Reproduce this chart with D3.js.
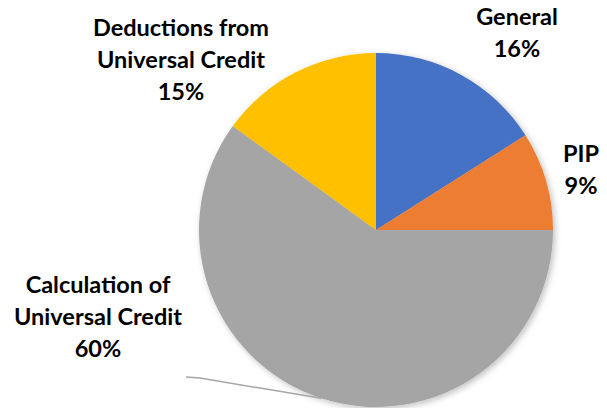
<!DOCTYPE html>
<html><head><meta charset="utf-8">
<script src="https://cdn.jsdelivr.net/npm/d3@7"></script>
<style>html,body{margin:0;padding:0;background:#fff;}svg{display:block;}</style>
</head><body>
<svg id="c" width="607" height="408"></svg>
<script>
const categories = ["General", "PIP", "Calculation of Universal Credit", "Deductions from Universal Credit"];
const labelLines = [["General"], ["PIP"], ["Calculation of", "Universal Credit"], ["Deductions from", "Universal Credit"]];
const values = [16, 9, 60, 15];
const colors = ["#4472C4", "#ED7D31", "#A5A5A5", "#FFC000"];

const svg = d3.select("#c");
const cx = 376, cy = 230, R = 177;
const defs = svg.append("defs");
const f = defs.append("filter").attr("id","sh").attr("x","-20%").attr("y","-20%").attr("width","140%").attr("height","140%");
f.append("feDropShadow").attr("dx",2).attr("dy",2).attr("stdDeviation",3).attr("flood-color","#000").attr("flood-opacity",0.25);

const pie = d3.pie().sort(null).value(d=>d)(values);
const arc = d3.arc().innerRadius(0).outerRadius(R);
const g = svg.append("g").attr("transform",`translate(${cx},${cy})`);
g.append("g").attr("filter","url(#sh)").selectAll("path").data(pie).join("path")
  .attr("d",arc).attr("fill",(d,i)=>colors[i]);

// label positions (center x, first baseline y)
const labelPos = [[517,25],[581,162],[98,293],[181,36]];
const lh = 32;
const font = "Lato, 'Liberation Sans', sans-serif";
labelPos.forEach((p,i)=>{
  const lines = labelLines[i].concat([values[i]+"%"]);
  const t = svg.append("text").attr("text-anchor","middle").attr("font-family",font)
    .attr("font-weight","bold").attr("font-size",23.5).attr("fill","#000");
  lines.forEach((l,j)=>t.append("tspan").attr("x",p[0]).attr("y",p[1]+j*lh).text(l));
});

// leader line for Calculation slice
const s = pie[2];
const mid = (s.startAngle+s.endAngle)/2;
const ex = cx + R*Math.sin(mid), ey = cy - R*Math.cos(mid);
svg.append("polyline").attr("points",`186,377 200,378 ${ex},${ey}`)
  .attr("fill","none").attr("stroke","#A6A6A6").attr("stroke-width",1.5);
</script>
</body></html>
